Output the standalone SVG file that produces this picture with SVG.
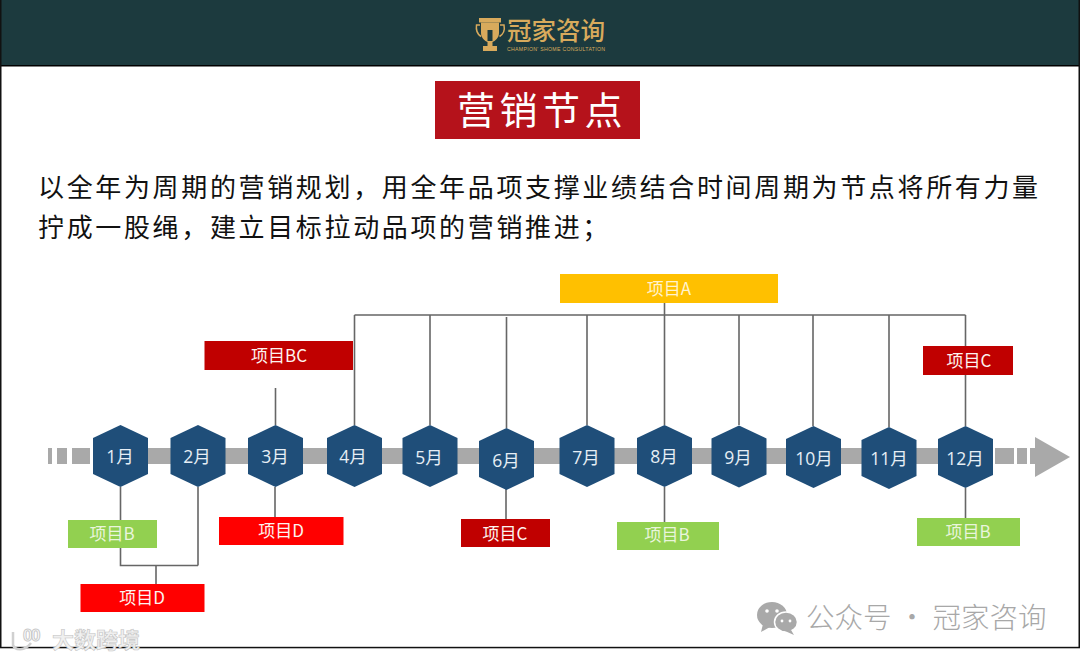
<svg xmlns="http://www.w3.org/2000/svg" xmlns:xlink="http://www.w3.org/1999/xlink" width="1080" height="661" viewBox="0 0 1080 661">
<style>
text{font-family:"Noto Sans CJK SC","Noto Sans",sans-serif}
.hex{fill:#1f4e79}
.mon{fill:#e6eef5;font-size:17.5px;text-anchor:middle;font-family:"Open Sans","Noto Sans CJK SC",sans-serif}
.lab{fill:#fdf3ef;font-size:17px;text-anchor:middle;font-family:"Noto Sans CJK SC",sans-serif}
.lg{fill:#e9f5dc}
.ly{fill:#fff3cf}
.red{fill:#ff0000}
.dred{fill:#c00000}
.grn{fill:#92d050}
.yel{fill:#ffc000}
.con{stroke:#666;stroke-width:1.6;fill:none}
.bar{fill:#a9a9a9}
.body{fill:#111;font-size:26px;letter-spacing:2.65px;font-weight:400}
.gold{fill:#d8aa5c}
.mark{fill:#f0f0f0;stroke:#c4c4c4;stroke-width:.6}
</style>
<defs>
<polygon id="hx" points="0,-31 27.5,-18 27.5,18 0,31 -27.5,18 -27.5,-18"/>
</defs>
<rect width="1080" height="661" fill="#fff"/>
<g id="frame">
<rect x="0" y="0" width="1080" height="66" fill="#1c3a3e"/>
<rect x="0" y="65" width="1080" height="1.5" fill="#000"/>
<rect x="0" y="0" width="1.5" height="648" fill="#111"/>
<rect x="1078.500" y="0" width="1.500" height="648" fill="#111"/>
<rect x="0" y="646.800" width="1080" height="1.500" fill="#111"/>
</g>
<g id="logo">
<rect class="gold" x="479" y="18" width="22" height="4.500"/>
<path class="gold" d="M481 22.500H499V33C499 38 495 41 492.500 42V46H497V51H483V46H487.500V42C485 41 481 38 481 33Z"/>
<path d="M487.500 30H492.500V41H487.500Z" fill="#1c3a3e"/>
<path d="M480 25H476.500C475.800 30 477 34 481 36.500M500 25H504C505 30 503.500 34 499.500 36.500" fill="none" stroke="#d8aa5c" stroke-width="1.500"/>
<text class="gold" x="507" y="40" font-size="24.500" font-weight="500">冠家咨询</text>
<text class="gold" x="507" y="51" font-size="5.200" style="font-family:'Liberation Sans',sans-serif" textLength="98">CHAMPION' SHOME CONSULTATION</text>
</g>
<g id="title">
<rect x="435" y="81" width="205" height="58" fill="#b5121b"/>
<text x="457" y="124" fill="#fff" font-size="38" letter-spacing="4.500" font-weight="400">营销节点</text>
</g>
<g id="body">
<text class="body" x="38" y="197">以全年为周期的营销规划，用全年品项支撑业绩结合时间周期为节点将所有力量</text>
<text class="body" x="38" y="237">拧成一股绳，建立目标拉动品项的营销推进；</text>
</g>
<g id="timeline">
<rect class="bar" x="48" y="448" width="4" height="16"/>
<rect class="bar" x="57" y="448" width="10" height="16"/>
<rect class="bar" x="72" y="448" width="18" height="16"/>
<rect class="bar" x="93" y="448" width="899" height="16"/>
<rect class="bar" x="995" y="448" width="19" height="16"/>
<rect class="bar" x="1017" y="448" width="10" height="16"/>
<rect class="bar" x="1030" y="448" width="6" height="16"/>
<polygon class="bar" points="1035,437 1070,457 1035,477"/>
</g>
<g id="connectors">
<path class="con" d="M354.500 315H965.500M354.500 315V425M430 315V425M506.500 317V428M587 315V425M664.500 303V425M739 315V425M813 315V426M889 315V427M965.500 315V426"/>
<path class="con" d="M275.500 388V425M120.500 487V520M120.500 548V565.500H198M198 487V565.500M156 565.500V584M275 487V517M506 489V519M664.500 487V522M965.500 488V518"/>
</g>
<g id="m1"><use xlink:href="#hx" class="hex" x="120.500" y="456"/><text class="mon" x="120" y="463">1月</text></g>
<g id="m2"><use xlink:href="#hx" class="hex" x="198" y="456"/><text class="mon" x="197" y="463">2月</text></g>
<g id="m3"><use xlink:href="#hx" class="hex" x="275.500" y="456"/><text class="mon" x="275" y="463">3月</text></g>
<g id="m4"><use xlink:href="#hx" class="hex" x="354.500" y="456"/><text class="mon" x="353" y="463">4月</text></g>
<g id="m5"><use xlink:href="#hx" class="hex" x="430" y="456"/><text class="mon" x="429" y="464">5月</text></g>
<g id="m6"><use xlink:href="#hx" class="hex" x="506.500" y="459"/><text class="mon" x="506" y="467">6月</text></g>
<g id="m7"><use xlink:href="#hx" class="hex" x="587" y="456"/><text class="mon" x="586" y="464">7月</text></g>
<g id="m8"><use xlink:href="#hx" class="hex" x="664.500" y="456"/><text class="mon" x="664" y="463">8月</text></g>
<g id="m9"><use xlink:href="#hx" class="hex" x="739" y="456.500"/><text class="mon" x="738" y="464">9月</text></g>
<g id="m10"><use xlink:href="#hx" class="hex" x="813.500" y="457"/><text class="mon" x="814" y="465">10月</text></g>
<g id="m11"><use xlink:href="#hx" class="hex" x="889" y="458"/><text class="mon" x="889" y="465">11月</text></g>
<g id="m12"><use xlink:href="#hx" class="hex" x="965.500" y="457"/><text class="mon" x="965" y="465">12月</text></g>
<g id="pA"><rect class="yel" x="560" y="274" width="218" height="29"/><text class="lab ly" x="669" y="295">项目A</text></g>
<g id="pBC"><rect class="dred" x="204.500" y="341" width="148.500" height="29"/><text class="lab" x="279" y="362">项目BC</text></g>
<g id="pC12"><rect class="dred" x="923" y="346" width="90" height="29"/><text class="lab" x="969" y="367">项目C</text></g>
<g id="pB1"><rect class="grn" x="68" y="520" width="89" height="28"/><text class="lab lg" x="112" y="540">项目B</text></g>
<g id="pD3"><rect class="red" x="219" y="517" width="124.500" height="28"/><text class="lab" x="281" y="537">项目D</text></g>
<g id="pD12"><rect class="red" x="80.500" y="584" width="124" height="28"/><text class="lab" x="142" y="604">项目D</text></g>
<g id="pC6"><rect class="dred" x="461" y="519" width="89" height="28"/><text class="lab" x="505" y="540">项目C</text></g>
<g id="pB8"><rect class="grn" x="617" y="522" width="102" height="28"/><text class="lab lg" x="667" y="541">项目B</text></g>
<g id="pB12"><rect class="grn" x="917" y="518" width="103" height="28"/><text class="lab lg" x="968" y="538">项目B</text></g>
<g id="wm">
<g fill="#a9a9a9">
<ellipse cx="772" cy="615" rx="15" ry="13"/>
<path d="M763 624L761 632L770 627Z"/>
<ellipse cx="786" cy="622" rx="11.500" ry="10" stroke="#fff" stroke-width="1.500"/>
<path d="M791 630L794 635L785 631Z"/>
</g>
<g fill="#fff"><circle cx="767" cy="611" r="1.800"/><circle cx="777" cy="611" r="1.800"/><circle cx="782" cy="621" r="1.400"/><circle cx="790" cy="621" r="1.400"/></g>
<text x="806" y="628" fill="#a8a8a8" font-size="28.500" font-weight="300">公众号 · 冠家咨询</text>
<path d="M13 632V645C15 651 25 651 31 643" fill="none" stroke="#d0d0d0" stroke-width="2.500"/>
<text class="mark" x="23" y="641" font-size="17" font-weight="700" letter-spacing="-1.500" style="font-family:'Liberation Sans',sans-serif;fill:none;stroke:#c8c8c8;stroke-width:1">00</text>
<text class="mark" x="52" y="648" font-size="22" font-weight="700">大数跨境</text>
</g>
</svg>
